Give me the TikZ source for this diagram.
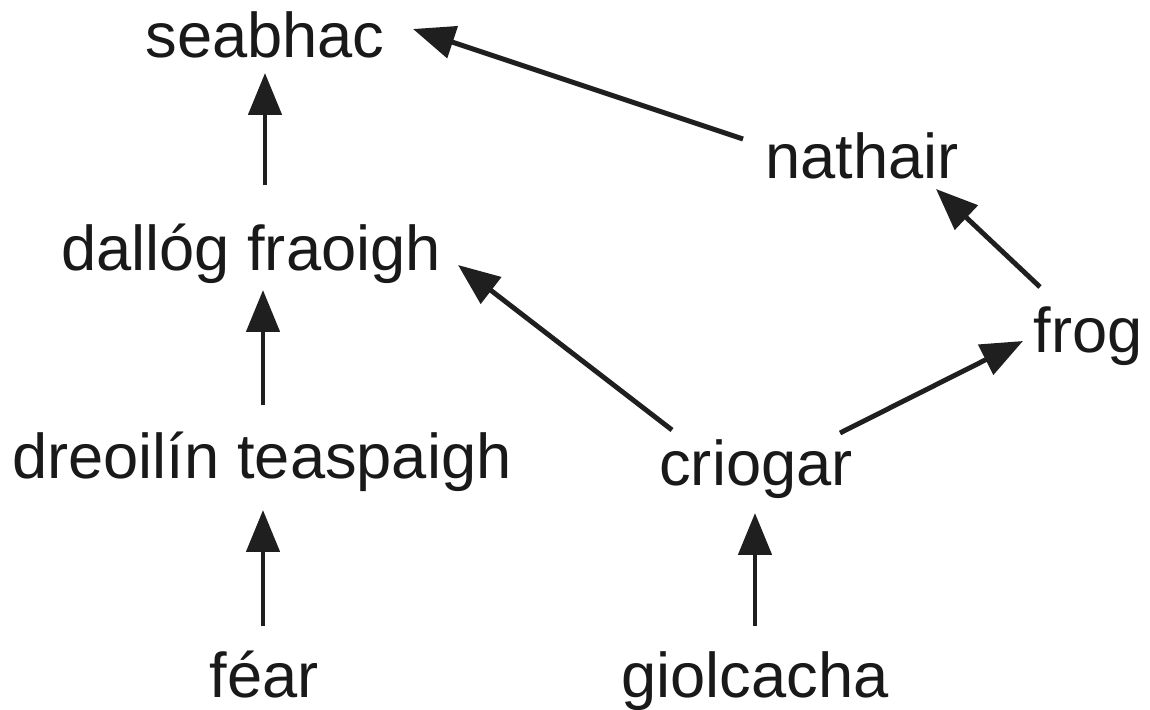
\documentclass[tikz,border=0pt]{standalone}
\usepackage{fontspec}
\setmainfont{Liberation Sans}
\usetikzlibrary{arrows.meta,calc}
\begin{document}
\begin{tikzpicture}[x=0.02cm,y=-0.02cm,
  lbl/.style={anchor=base,inner sep=0pt,font=\fontsize{36}{43}\selectfont,text=black!90},
  arr/.style={line width=2.8pt,draw=black!88,-{Triangle[length=23.8pt,width=18.7pt]}}]
\useasboundingbox (0,0) rectangle (1150,710);
\node[lbl] (seabhac) at (265,57) {seabhac};
\node[lbl] (nathair) at (862,178) {nathair};
\node[lbl] (dallog) at (251,270) {dallóg fraoigh};
\node[lbl] (frog) at (1088,352) {frog};
\node[lbl] (dreoilin) at (262,478) {dreoilín teaspaigh};
\node[lbl] (criogar) at (756,485) {criogar};
\node[lbl] (fear) at (264,697) {féar};
\node[lbl] (giolcacha) at (755,697) {giolcacha};
\draw[arr] ($(dallog.base)+(14,-85)$) -- ($(seabhac.base)+(0,16)$);
\draw[arr] ($(dreoilin.base)+(1,-73)$) -- ($(dallog.base)+(12,20)$);
\draw[arr] ($(fear.base)+(-1,-71)$) -- ($(dreoilin.base)+(1,32)$);
\draw[arr] ($(giolcacha.base)+(0,-71)$) -- ($(criogar.base)+(-1,28)$);
\draw[arr] ($(criogar.base)+(-84,-55)$) -- ($(dallog.base)+(207,-5)$);
\draw[arr] ($(criogar.base)+(84,-52)$) -- ($(frog.base)+(-65,-11)$);
\draw[arr] ($(frog.base)+(-48,-65)$) -- ($(nathair.base)+(74,11)$);
\draw[arr] ($(nathair.base)+(-119,-39)$) -- ($(seabhac.base)+(148,-28)$);
\end{tikzpicture}
\end{document}
